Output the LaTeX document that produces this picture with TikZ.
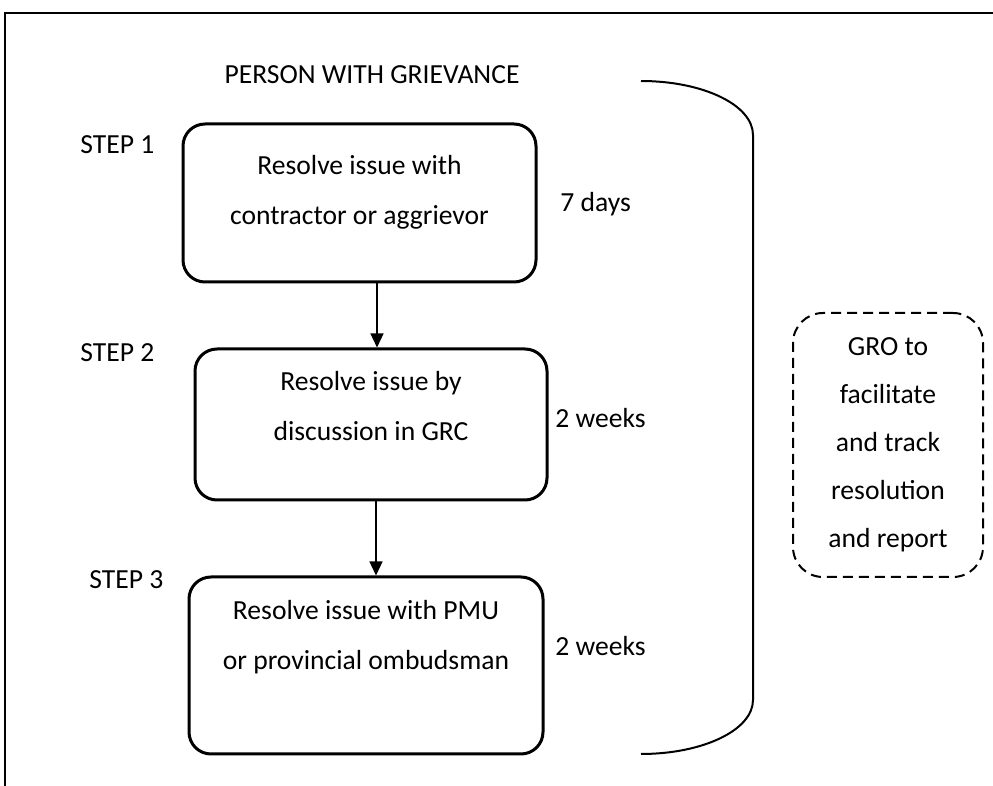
\documentclass[tikz,border=0pt]{standalone}
\usepackage{fontspec}
\setmainfont{Carlito}
\usetikzlibrary{arrows.meta}
\begin{document}
\begin{tikzpicture}[x=0.5pt, y=-0.5pt]
\tikzstyle{every node}=[inner sep=0pt, font=\fontsize{13.8}{25}\selectfont]
\tikzstyle{stepbox}=[draw, rounded corners=11pt, line width=1.5pt]
\tikzstyle{boxtext}=[align=center]
\tikzstyle{gro}=[draw, dash pattern=on 5pt off 3pt, rounded corners=15pt,
                 line width=1pt, minimum width=95pt, minimum height=132pt,
                 align=center, font=\fontsize{13.8}{24}\selectfont]
\tikzstyle{flow}=[-{Triangle[length=7pt,width=6.5pt]}, line width=0.65pt]
\useasboundingbox (0,0) rectangle (993,786);
\draw[line width=1pt] (993,13) -- (5,13) -- (5,786);
\node (person) at (372,75) {PERSON WITH GRIEVANCE};
\node[anchor=west] (s1) at (80,145) {STEP 1};
\node[anchor=west] (s2) at (80,353) {STEP 2};
\node[anchor=west] (s3) at (89,580) {STEP 3};
\node[stepbox, minimum width=176.5pt, minimum height=79pt] (b1) at (359.5,203) {};
\node[stepbox, minimum width=176pt, minimum height=75.5pt] (b2) at (371,424.5) {};
\node[stepbox, minimum width=177pt, minimum height=88.5pt] (b3) at (366,665.5) {};
\node[boxtext] (t1) at (359.5,192) {Resolve issue with\\contractor or aggrievor};
\node[boxtext] (t2) at (371,406) {Resolve issue by\\discussion in GRC};
\node[boxtext] (t3) at (366,637) {Resolve issue with PMU\\or provincial ombudsman};
\node[anchor=west] (d1) at (560,204) {7 days};
\node[anchor=west] (d2) at (555,418) {2 weeks};
\node[anchor=west] (d3) at (555,646) {2 weeks};
\node[gro] (gro) at (888,445) {GRO to\\facilitate\\and track\\resolution\\and report};
\draw[flow] ([xshift=8.75pt]b1.south) -- ([xshift=3pt]b2.north);
\draw[flow] ([xshift=2.5pt]b2.south) -- ([xshift=5pt]b3.north);
% bracket
\draw[line width=1pt] (641,81) .. controls (703,81) and (753,105) .. (753,135)
      -- (753,700) .. controls (753,730) and (703,754) .. (641,754);
\end{tikzpicture}
\end{document}
